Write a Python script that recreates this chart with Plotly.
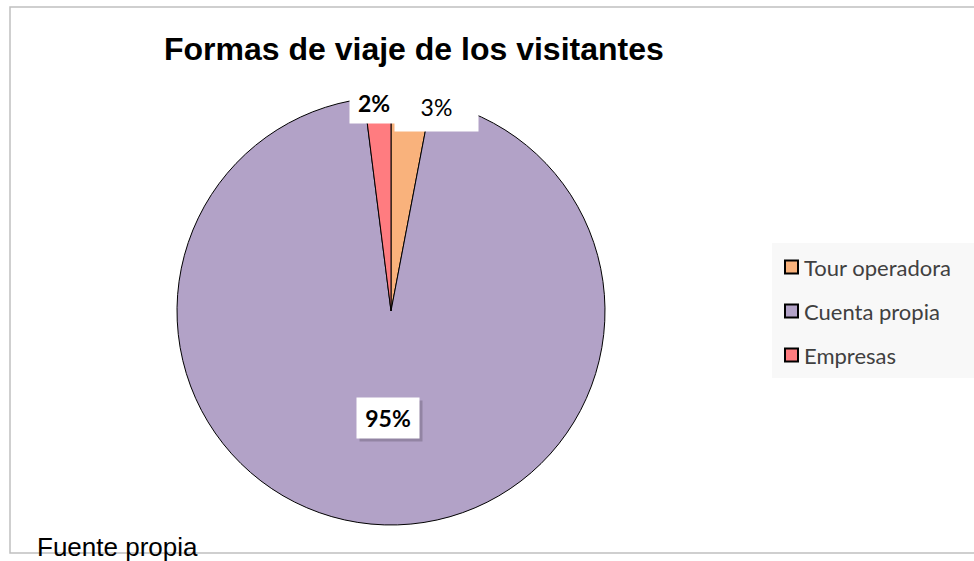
import math
import plotly.graph_objects as go

labels = ["Tour operadora", "Cuenta propia", "Empresas"]
values = [3, 95, 2]
colors = ["#F9B27C", "#B2A2C7", "#FF7C80"]
label_text = ["3%", "95%", "2%"]
label_bold = [False, True, True]
label_radius_frac = [1.0, 0.5, 1.0]
label_shift = [(25, 9), (0, 0), (-4, 5)]
label_box = [(67, 32), (46, 24), (32, 25)]

W, H = 974, 561
cx, cy, R = 391, 311, 214

fig = go.Figure()
fig.add_trace(go.Pie(
    labels=labels, values=values, sort=False, direction="clockwise", rotation=0,
    marker=dict(colors=colors, line=dict(color="#000000", width=1)),
    textinfo="none", hoverinfo="label+percent", showlegend=False,
    domain=dict(x=[(cx - R) / W, (cx + R) / W], y=[(H - cy - R) / H, (H - cy + R) / H]),
))

shapes = []
annotations = []

# chart border
shapes.append(dict(type="rect", xref="paper", yref="paper", x0=10 / W, x1=1.01, y0=(H - 553) / H, y1=(H - 7) / H,
                   line=dict(color="#C0C0C0", width=1.5), fillcolor="rgba(0,0,0,0)", layer="below"))

# data labels anchored on the slices computed from the values
total = sum(values)
cum = 0
for i, v in enumerate(values):
    mid = (cum + v / 2) / total * 2 * math.pi
    cum += v
    f = label_radius_frac[i]
    px = cx + math.sin(mid) * R * f + label_shift[i][0]
    py = cy - math.cos(mid) * R * f + label_shift[i][1]
    txt = label_text[i]
    if label_bold[i]:
        txt = "<b>" + txt + "</b>"
    if label_bold[i] and f < 1:
        annotations.append(dict(
            x=(px + 3) / W, y=1 - (py + 3) / H, xref="paper", yref="paper", text=" ", showarrow=False,
            width=label_box[i][0], height=label_box[i][1],
            bgcolor="rgba(0,0,0,0.18)", borderpad=8, xanchor="center", yanchor="middle",
        ))
    annotations.append(dict(
        x=px / W, y=1 - py / H, xref="paper", yref="paper", text=txt, showarrow=False,
        width=label_box[i][0], height=label_box[i][1], align="center", valign="middle",
        font=dict(family="Lato, Open Sans, sans-serif", size=23, color="#000000"),
        bgcolor="#FFFFFF", borderpad=8, xanchor="center", yanchor="middle",
    ))

# legend (manual)
lx0, ly0, lx1, ly1 = 772, 243, 974, 378
shapes.append(dict(type="rect", xref="paper", yref="paper", x0=lx0 / W, x1=lx1 / W, y0=1 - ly1 / H, y1=1 - ly0 / H,
                   line=dict(width=0), fillcolor="#F8F8F8", layer="below"))
for i, lab in enumerate(labels):
    yc = 267 + i * 44
    shapes.append(dict(type="rect", xref="paper", yref="paper",
                       x0=785 / W, x1=798 / W, y0=1 - (yc + 6.5) / H, y1=1 - (yc - 6.5) / H,
                       line=dict(color="#000000", width=2), fillcolor=colors[i]))
    annotations.append(dict(x=802 / W, y=1 - yc / H, xref="paper", yref="paper", text=lab, showarrow=False,
                            xanchor="left", yanchor="middle",
                            font=dict(family="Lato, Open Sans, sans-serif", size=22, color="#404040")))

# title
annotations.append(dict(x=414 / W, y=1 - 49 / H, xref="paper", yref="paper",
                        text="<b>Formas de viaje de los visitantes</b>", showarrow=False,
                        xanchor="center", yanchor="middle",
                        font=dict(family="Liberation Sans, Arial, sans-serif", size=32, color="#000000")))
# source note
annotations.append(dict(x=35 / W, y=1 - 547 / H, xref="paper", yref="paper",
                        text="Fuente propia", showarrow=False, xanchor="left", yanchor="middle",
                        font=dict(family="Liberation Sans, Arial, sans-serif", size=26, color="#000000")))

fig.update_layout(
    width=W, height=H, margin=dict(l=0, r=0, t=0, b=0),
    paper_bgcolor="#FFFFFF", plot_bgcolor="#FFFFFF",
    shapes=shapes, annotations=annotations, showlegend=False,
)
fig.write_html("out.html", config={"displayModeBar": False},
               post_script="document.body.style.margin='0';document.body.style.overflow='hidden';")
